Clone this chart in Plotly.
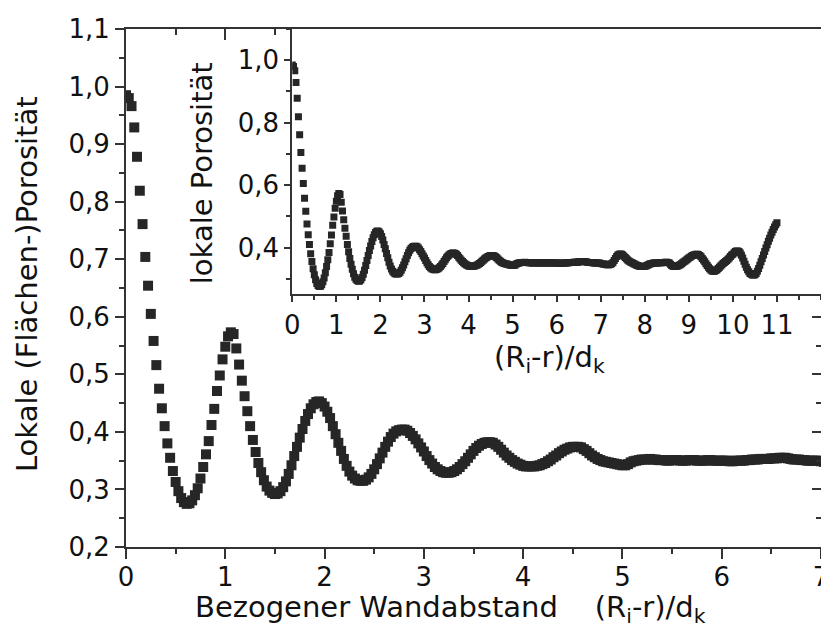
import plotly.graph_objects as go

# Radial porosity profile, sampled every 1/36 of a particle diameter (R_i - r)/d_k
STEP = 1.0 / 36.0

porosity = [
    # 0 ... 1
    0.985, 0.980, 0.966, 0.929, 0.878, 0.819, 0.761, 0.704, 0.654, 0.605,
    0.558, 0.516, 0.475, 0.441, 0.410, 0.380, 0.355, 0.332, 0.313, 0.297,
    0.285, 0.278, 0.275, 0.276, 0.281, 0.290, 0.302, 0.319, 0.339, 0.361,
    0.384, 0.412, 0.440, 0.471, 0.498, 0.526,
    # 1 ... 2
    0.548, 0.566, 0.573, 0.570, 0.545, 0.517, 0.489, 0.462, 0.436, 0.410,
    0.386, 0.365, 0.346, 0.330, 0.316, 0.305, 0.298, 0.294, 0.292, 0.293,
    0.297, 0.304, 0.314, 0.327, 0.342, 0.358, 0.374, 0.390, 0.405, 0.419,
    0.431, 0.441, 0.448, 0.452, 0.453, 0.450,
    # 2 ... 3
    0.444, 0.435, 0.424, 0.410, 0.396, 0.381, 0.367, 0.353, 0.341, 0.331,
    0.324, 0.319, 0.316, 0.315, 0.315, 0.317, 0.321, 0.327, 0.335, 0.344,
    0.354, 0.364, 0.374, 0.383, 0.391, 0.397, 0.401, 0.403, 0.404, 0.404,
    0.402, 0.398, 0.393, 0.387, 0.380, 0.373,
    # 3 ... 4
    0.366, 0.358, 0.351, 0.345, 0.339, 0.335, 0.332, 0.330, 0.329, 0.329,
    0.330, 0.332, 0.335, 0.339, 0.344, 0.349, 0.355, 0.361, 0.367, 0.372,
    0.376, 0.379, 0.381, 0.382, 0.382, 0.381, 0.378, 0.374, 0.369, 0.364,
    0.359, 0.355, 0.351, 0.348, 0.345, 0.343,
    # 4 ... 5
    0.341, 0.340, 0.340, 0.340, 0.340, 0.341, 0.342, 0.344, 0.346, 0.349,
    0.352, 0.356, 0.359, 0.363, 0.366, 0.369, 0.371, 0.373, 0.374, 0.374,
    0.374, 0.373, 0.370, 0.367, 0.363, 0.359, 0.356, 0.353, 0.351, 0.349,
    0.348, 0.347, 0.346, 0.345, 0.344, 0.343,
    # 5 ... 6
    0.342, 0.342, 0.344, 0.347, 0.349, 0.350, 0.351, 0.352, 0.352, 0.352,
    0.353, 0.352, 0.352, 0.351, 0.351, 0.351, 0.350, 0.350, 0.351, 0.351,
    0.351, 0.350, 0.350, 0.350, 0.351, 0.351, 0.351, 0.350, 0.350, 0.350,
    0.350, 0.351, 0.351, 0.350, 0.350, 0.350,
    # 6 ... 7
    0.350, 0.350, 0.350, 0.349, 0.349, 0.350, 0.350, 0.350, 0.350, 0.351,
    0.351, 0.352, 0.352, 0.352, 0.353, 0.353, 0.353, 0.353, 0.354, 0.354,
    0.354, 0.355, 0.355, 0.355, 0.354, 0.353, 0.352, 0.352, 0.352, 0.351,
    0.351, 0.350, 0.350, 0.350, 0.350, 0.350,
    # 7 ... 8
    0.349, 0.348, 0.347, 0.346, 0.346, 0.345, 0.345, 0.345, 0.346, 0.348,
    0.352, 0.358, 0.365, 0.371, 0.376, 0.378, 0.379, 0.378, 0.376, 0.372,
    0.368, 0.364, 0.360, 0.357, 0.354, 0.352, 0.350, 0.348, 0.346, 0.344,
    0.342, 0.341, 0.340, 0.339, 0.339, 0.339,
    # 8 ... 9
    0.340, 0.341, 0.343, 0.345, 0.347, 0.348, 0.349, 0.350, 0.350, 0.350,
    0.350, 0.351, 0.351, 0.351, 0.351, 0.352, 0.352, 0.353, 0.353, 0.352,
    0.350, 0.346, 0.342, 0.340, 0.339, 0.339, 0.340, 0.341, 0.343, 0.345,
    0.348, 0.351, 0.354, 0.357, 0.360, 0.363,
    # 9 ... 10
    0.366, 0.369, 0.372, 0.374, 0.376, 0.377, 0.378, 0.378, 0.377, 0.374,
    0.370, 0.365, 0.360, 0.354, 0.348, 0.342, 0.337, 0.332, 0.328, 0.325,
    0.324, 0.324, 0.326, 0.329, 0.333, 0.337, 0.341, 0.345, 0.349, 0.352,
    0.355, 0.358, 0.362, 0.366, 0.371, 0.376,
    # 10 ... 11
    0.378, 0.383, 0.387, 0.389, 0.389, 0.387, 0.382, 0.375, 0.366, 0.356,
    0.346, 0.337, 0.329, 0.322, 0.317, 0.314, 0.312, 0.312, 0.313, 0.317,
    0.324, 0.333, 0.343, 0.354, 0.365, 0.376, 0.387, 0.398, 0.409, 0.420,
    0.430, 0.440, 0.449, 0.458, 0.466, 0.473,
    0.479,
]
wall_distance = [round(i * STEP, 4) for i in range(len(porosity))]

main_xticks = [0, 1, 2, 3, 4, 5, 6, 7]
main_yticks = [0.2, 0.3, 0.4, 0.5, 0.6, 0.7, 0.8, 0.9, 1.0, 1.1]
inset_xticks = [0, 1, 2, 3, 4, 5, 6, 7, 8, 9, 10, 11]
inset_yticks = [0.4, 0.6, 0.8, 1.0]

INK = "#262626"
AXIS = "#333333"
TEXT = "#111111"
FONT = "DejaVu Sans"

fig = go.Figure()

# main profile (wall region)
fig.add_trace(go.Scatter(
    x=wall_distance, y=porosity, mode="markers",
    marker=dict(symbol="square", size=10, color=INK, line=dict(width=0)),
    xaxis="x", yaxis="y", showlegend=False, hoverinfo="skip",
))
# full profile across the bed (inset)
fig.add_trace(go.Scatter(
    x=wall_distance, y=porosity, mode="markers",
    marker=dict(symbol="square", size=7, color=INK, line=dict(width=0)),
    xaxis="x2", yaxis="y2", showlegend=False, hoverinfo="skip",
))
# carrier for the mirrored frame axes (top / right)
fig.add_trace(go.Scatter(x=[], y=[], xaxis="x3", yaxis="y3",
                         showlegend=False, hoverinfo="skip"))

tickfont = dict(family=FONT, size=26, color=TEXT)
titlefont = dict(family=FONT, size=29, color=TEXT)

common = dict(showgrid=False, zeroline=False, showline=True, linecolor=AXIS,
              linewidth=2, tickcolor=AXIS, tickwidth=2, automargin=False)

fig.update_layout(
    width=821, height=627,
    margin=dict(l=126, r=0, t=29, b=80),
    paper_bgcolor="white", plot_bgcolor="white",
    template="none",
    separators=",.",
    font=dict(family=FONT, size=26, color=TEXT),
    xaxis=dict(
        **common, domain=[0, 1], range=[0, 7], anchor="y",
        tickmode="array", tickvals=main_xticks, ticks="outside", ticklen=10,
        minor=dict(dtick=0.5, ticks="outside", ticklen=5, tickcolor=AXIS, tickwidth=2),
        tickfont=tickfont, ticklabeloverflow="allow", ticklabelstandoff=-4,
    ),
    yaxis=dict(
        **common, domain=[0, 1], range=[0.2, 1.1], anchor="x",
        tickmode="array", tickvals=main_yticks, tickformat=".1f",
        ticks="outside", ticklen=9,
        minor=dict(dtick=0.05, ticks="outside", ticklen=5, tickcolor=AXIS, tickwidth=2),
        tickfont=tickfont, ticklabeloverflow="allow",
    ),
    xaxis3=dict(
        **common, range=[0, 7], overlaying="x", side="top", anchor="y3",
        tickmode="array", tickvals=main_xticks, ticks="inside", ticklen=11,
        minor=dict(dtick=0.5, ticks="inside", ticklen=6, tickcolor=AXIS, tickwidth=2),
        showticklabels=False,
    ),
    yaxis3=dict(
        **common, range=[0.2, 1.1], overlaying="y", side="right", anchor="x3",
        tickmode="array", tickvals=main_yticks, ticks="inside", ticklen=9,
        minor=dict(dtick=0.05, ticks="inside", ticklen=5, tickcolor=AXIS, tickwidth=2),
        showticklabels=False,
    ),
    xaxis2=dict(
        **common, domain=[0.2393, 1], range=[0, 12], anchor="y2",
        tickmode="array", tickvals=inset_xticks, ticks="outside", ticklen=6,
        minor=dict(dtick=0.5, ticks="outside", ticklen=4, tickcolor=AXIS, tickwidth=2),
        tickfont=tickfont,
    ),
    yaxis2=dict(
        **common, domain=[0.4878, 1], range=[0.25, 1.1], anchor="x2",
        tickmode="array", tickvals=inset_yticks, tickformat=".1f",
        ticks="outside", ticklen=6,
        minor=dict(dtick=0.1, ticks="outside", ticklen=4, tickcolor=AXIS, tickwidth=2),
        tickfont=tickfont,
    ),
)

# axis titles, placed in paper coordinates of the main plot area
titles = [
    dict(text="Bezogener Wandabstand\u00a0\u00a0\u00a0\u00a0(R<sub>i</sub>-r)/d<sub>k</sub>",
         x=0.4676, y=-0.120, textangle=0),
    dict(text="Lokale (Flächen-)Porosität", x=-0.1424, y=0.5077, textangle=-90),
    dict(text="(R<sub>i</sub>-r)/d<sub>k</sub>", x=0.610, y=0.362, textangle=0),
    dict(text="lokale Porosität", x=0.1089, y=0.721, textangle=-90),
]
for t in titles:
    fig.add_annotation(
        text=t["text"], x=t["x"], y=t["y"], xref="paper", yref="paper",
        xanchor="center", yanchor="middle", textangle=t["textangle"],
        showarrow=False, font=titlefont,
    )

fig.write_html("out.html")
